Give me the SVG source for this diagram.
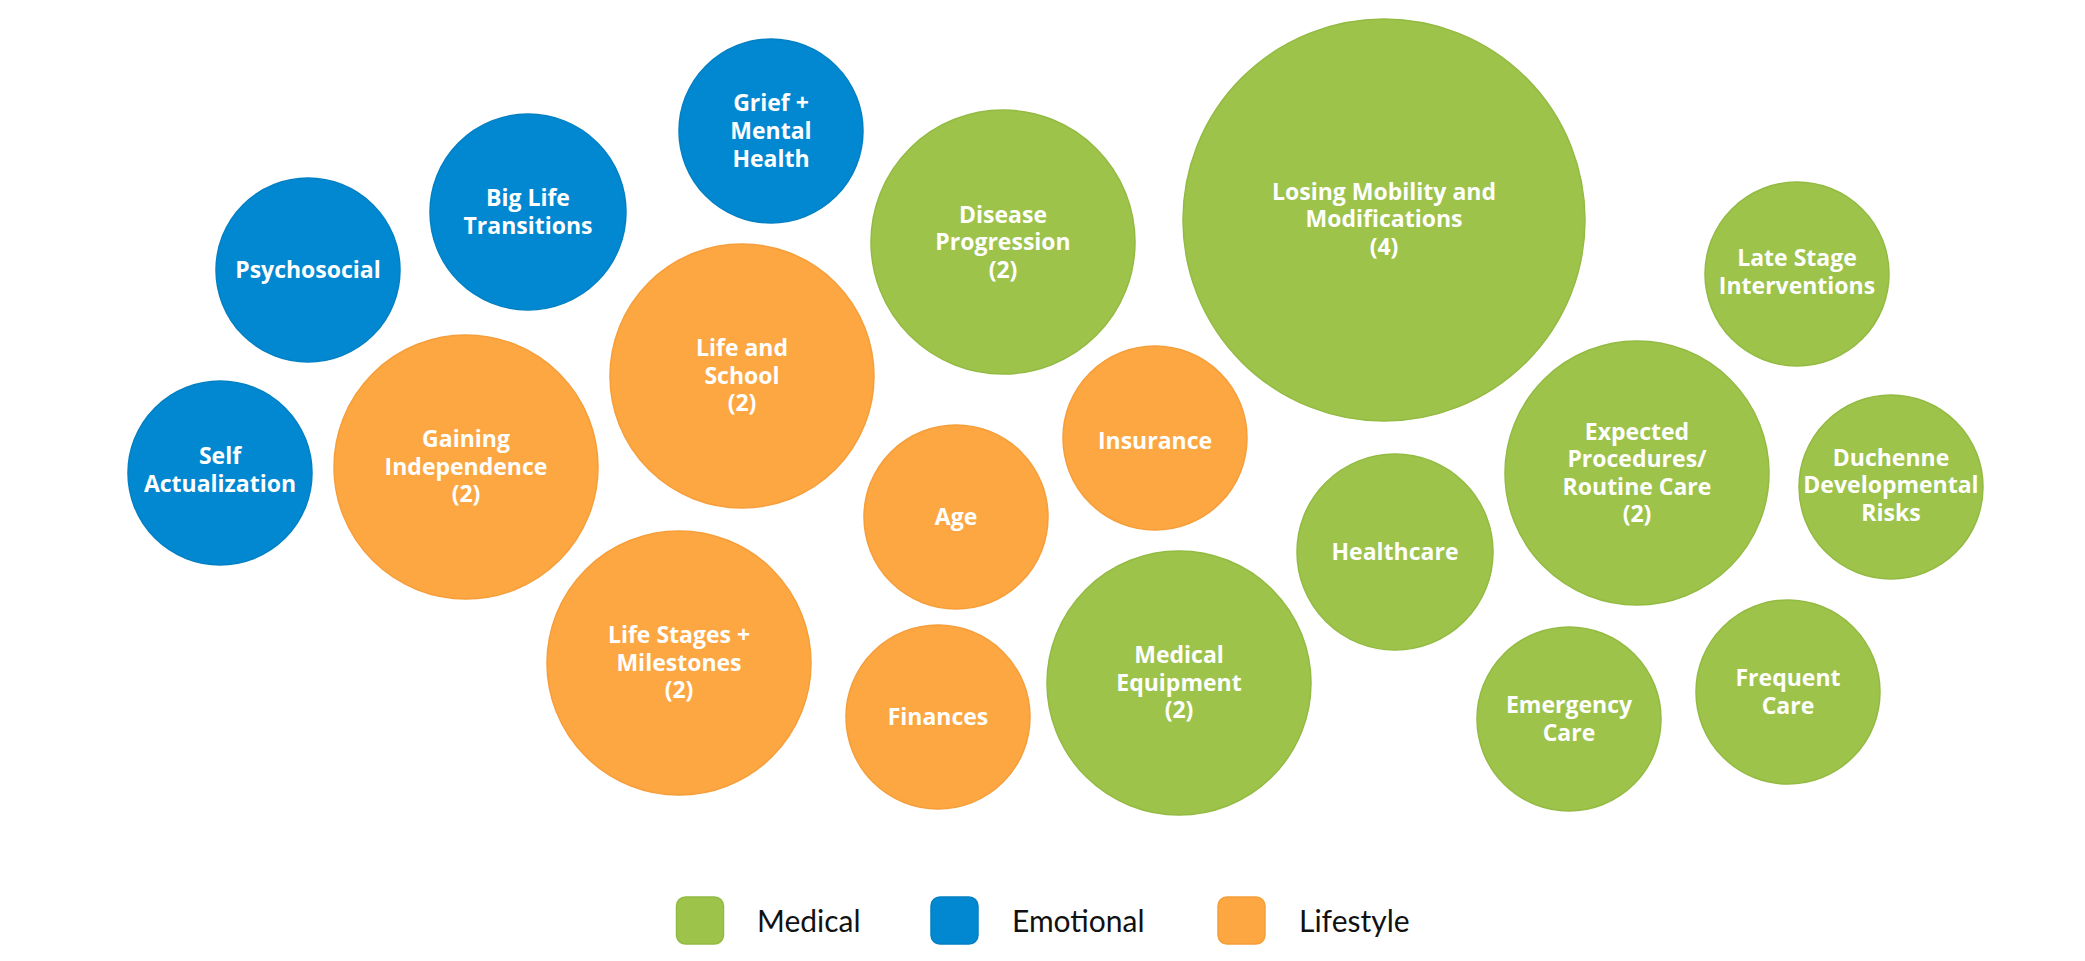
<svg xmlns="http://www.w3.org/2000/svg" width="2085" height="961" viewBox="0 0 2085 961">
<style>
.med{fill:#9DC34B;stroke:#93BA42;stroke-width:1.5}
.emo{fill:#0288D1;stroke:#0380C4;stroke-width:1.5}
.life{fill:#FDA743;stroke:#F59E3A;stroke-width:1.5}
.lbl{font-family:"Open Sans","Noto Sans",sans-serif;font-weight:bold;font-size:23px;fill:#FFFFFF;text-anchor:middle}
.leg{font-family:Lato,"Liberation Sans",sans-serif;font-size:30px;fill:#111111}
</style>
<rect width="2085" height="961" fill="#FFFFFF"/>
<g id="connectors"/>
<g id="psychosocial"><circle class="emo" cx="308" cy="270" r="92"/><text class="lbl" x="308" y="278">Psychosocial</text></g>
<g id="big-life-transitions"><circle class="emo" cx="528" cy="212" r="98"/><text class="lbl" x="528" y="206">Big Life<tspan x="528" dy="28">Transitions</tspan></text></g>
<g id="self-actualization"><circle class="emo" cx="220" cy="473" r="92"/><text class="lbl" x="220" y="464">Self<tspan x="220" dy="28">Actualization</tspan></text></g>
<g id="grief-mental-health"><circle class="emo" cx="771" cy="131" r="92"/><text class="lbl" x="771" y="111">Grief +<tspan x="771" dy="27.8">Mental</tspan><tspan x="771" dy="27.8">Health</tspan></text></g>
<g id="gaining-independence"><circle class="life" cx="466" cy="467" r="132"/><text class="lbl" x="466" y="447">Gaining<tspan x="466" dy="27.7">Independence</tspan><tspan x="466" dy="27.7">(2)</tspan></text></g>
<g id="life-and-school"><circle class="life" cx="742" cy="376" r="132"/><text class="lbl" x="742" y="356">Life and<tspan x="742" dy="27.7">School</tspan><tspan x="742" dy="27.7">(2)</tspan></text></g>
<g id="disease-progression"><circle class="med" cx="1003" cy="242" r="132"/><text class="lbl" x="1003" y="222.5">Disease<tspan x="1003" dy="27.5">Progression</tspan><tspan x="1003" dy="27.5">(2)</tspan></text></g>
<g id="losing-mobility"><circle class="med" cx="1384" cy="220" r="201"/><text class="lbl" x="1384" y="199.5">Losing Mobility and<tspan x="1384" dy="27.5">Modifications</tspan><tspan x="1384" dy="27.5">(4)</tspan></text></g>
<g id="insurance"><circle class="life" cx="1155" cy="438" r="92"/><text class="lbl" x="1155" y="449">Insurance</text></g>
<g id="age"><circle class="life" cx="956" cy="517" r="92"/><text class="lbl" x="956" y="525">Age</text></g>
<g id="life-stages-milestones"><circle class="life" cx="679" cy="663" r="132"/><text class="lbl" x="679" y="643">Life Stages +<tspan x="679" dy="27.5">Milestones</tspan><tspan x="679" dy="27.5">(2)</tspan></text></g>
<g id="finances"><circle class="life" cx="938" cy="717" r="92"/><text class="lbl" x="938" y="725">Finances</text></g>
<g id="medical-equipment"><circle class="med" cx="1179" cy="683" r="132"/><text class="lbl" x="1179" y="663">Medical<tspan x="1179" dy="27.5">Equipment</tspan><tspan x="1179" dy="27.5">(2)</tspan></text></g>
<g id="healthcare"><circle class="med" cx="1395" cy="552" r="98"/><text class="lbl" x="1395" y="560">Healthcare</text></g>
<g id="late-stage-interventions"><circle class="med" cx="1797" cy="274" r="92"/><text class="lbl" x="1797" y="266">Late Stage<tspan x="1797" dy="27.5">Interventions</tspan></text></g>
<g id="expected-procedures"><circle class="med" cx="1637" cy="473" r="132"/><text class="lbl" x="1637" y="439.5">Expected<tspan x="1637" dy="27.5">Procedures/</tspan><tspan x="1637" dy="27.5">Routine Care</tspan><tspan x="1637" dy="27.5">(2)</tspan></text></g>
<g id="duchenne-developmental-risks"><circle class="med" cx="1891" cy="487" r="92"/><text class="lbl" x="1891" y="465.5">Duchenne<tspan x="1891" dy="27.5">Developmental</tspan><tspan x="1891" dy="27.5">Risks</tspan></text></g>
<g id="emergency-care"><circle class="med" cx="1569" cy="719" r="92"/><text class="lbl" x="1569" y="713">Emergency<tspan x="1569" dy="27.5">Care</tspan></text></g>
<g id="frequent-care"><circle class="med" cx="1788" cy="692" r="92"/><text class="lbl" x="1788" y="686">Frequent<tspan x="1788" dy="27.5">Care</tspan></text></g>
<g id="legend">
<rect class="med" x="676.5" y="897" width="47" height="47" rx="9"/>
<text class="leg" x="757" y="932">Medical</text>
<rect class="emo" x="931" y="897" width="47" height="47" rx="9"/>
<text class="leg" x="1012" y="932">Emotional</text>
<rect class="life" x="1218" y="897" width="47" height="47" rx="9"/>
<text class="leg" x="1299" y="932">Lifestyle</text>
</g>
</svg>
